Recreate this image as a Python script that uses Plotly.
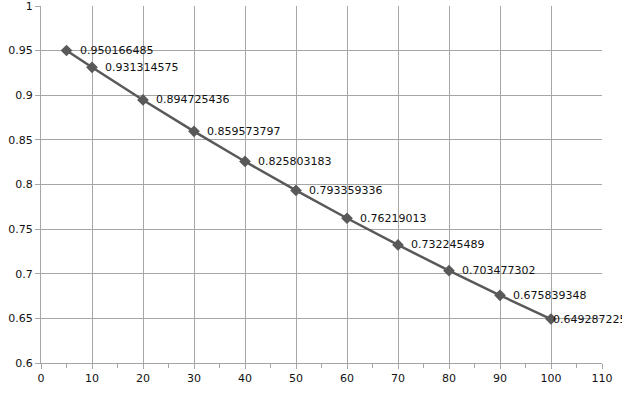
import plotly.graph_objects as go

x_values = [5, 10, 20, 30, 40, 50, 60, 70, 80, 90, 100]
y_values = [0.950166485, 0.931314575, 0.894725436, 0.859573797, 0.825803183,
            0.793359336, 0.76219013, 0.732245489, 0.703477302, 0.675839348, 0.649287225]
labels = ["0.950166485", "0.931314575", "0.894725436", "0.859573797", "0.825803183",
          "0.793359336", "0.76219013", "0.732245489", "0.703477302", "0.675839348", "0.649287225"]
x_ticks = [0, 10, 20, 30, 40, 50, 60, 70, 80, 90, 100, 110]
y_ticks = [0.6, 0.65, 0.7, 0.75, 0.8, 0.85, 0.9, 0.95, 1.0]
y_tick_text = ["0.6", "0.65", "0.7", "0.75", "0.8", "0.85", "0.9", "0.95", "1"]

fig = go.Figure()
fig.add_trace(go.Scatter(
    x=x_values, y=y_values, mode="lines+markers",
    line=dict(color="#595959", width=2.5),
    marker=dict(symbol="diamond", size=9, color="#595959"),
    cliponaxis=False, showlegend=False, hoverinfo="skip",
))
for i, (xv, yv, t) in enumerate(zip(x_values, y_values, labels)):
    last = i == len(labels) - 1
    fig.add_annotation(
        x=xv, y=yv, text=t, showarrow=False, xanchor="left", yanchor="middle",
        xshift=0 if last else 11,
        font=dict(family="DejaVu Sans", size=11, color="#111111"),
    )

grid = "#a6a6a6"
fig.update_layout(
    width=622, height=394,
    margin=dict(l=41, r=20, t=6, b=31, autoexpand=False),
    paper_bgcolor="white", plot_bgcolor="white",
    font=dict(family="DejaVu Sans", size=11, color="#111111"),
    xaxis=dict(range=[0, 110], tickmode="array", tickvals=x_ticks, showgrid=True, gridcolor=grid, gridwidth=1,
               showline=True, linecolor=grid, ticks="outside", ticklen=5, tickcolor=grid,
               minor=dict(tickmode="array", tickvals=[5, 15, 25, 35, 45, 55, 65, 75, 85, 95, 105],
                          ticks="outside", ticklen=4, tickcolor=grid, showgrid=False),
               zeroline=False, automargin=False),
    yaxis=dict(range=[0.6, 1.0], tickmode="array", tickvals=y_ticks, ticktext=y_tick_text,
               showgrid=True, gridcolor=grid, gridwidth=1,
               showline=True, linecolor=grid, ticks="outside", ticklen=5, tickcolor=grid,
               zeroline=False, automargin=False, ticklabeloverflow="allow"),
)
fig.write_html("out.html", config={"displayModeBar": False},
               post_script="document.body.style.margin='0';document.body.style.overflow='hidden';")
